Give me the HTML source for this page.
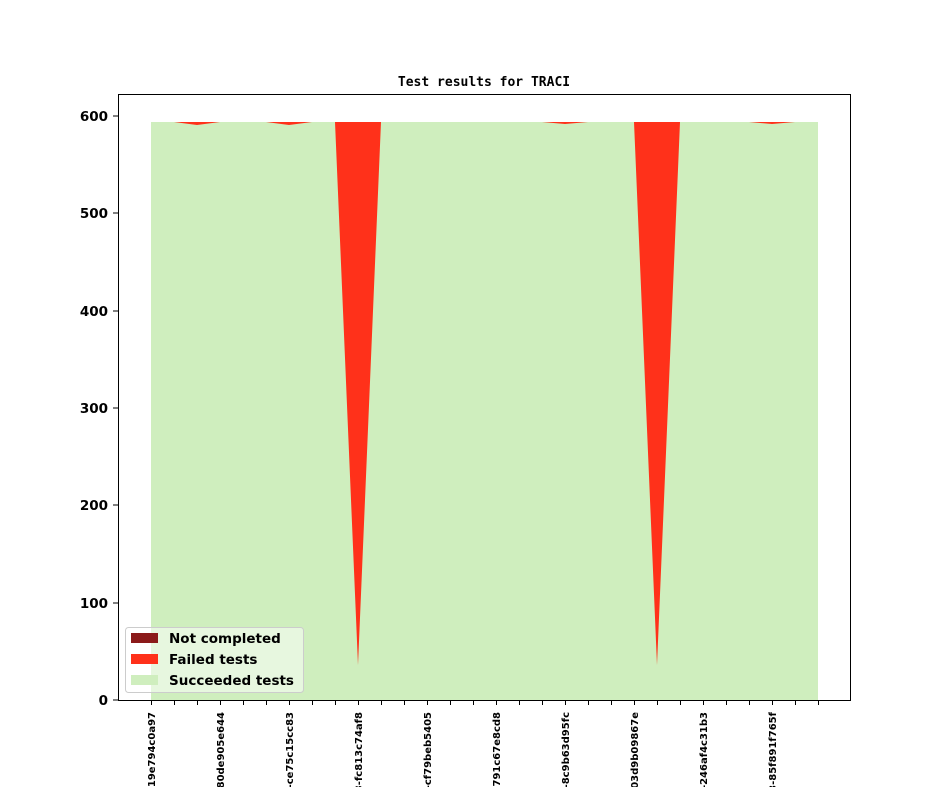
<!DOCTYPE html>
<html><head><style>body{margin:0;background:#fff;overflow:hidden}</style></head><body>
<svg width="944" height="787" xmlns="http://www.w3.org/2000/svg" font-family="DejaVu Sans, Liberation Sans, sans-serif">
<rect width="944" height="787" fill="#fff"/>
<text x="484" y="86" text-anchor="middle" font-family="DejaVu Sans Mono, Liberation Mono, monospace" font-weight="bold" font-size="13">Test results for TRACI</text>
<polygon points="151,700 151,122 818,122 818,700" fill="#ff311a"/>
<polygon fill="#cfeebe" points="151,700 151,122 174,122 197,125 220,122 266,122 289,125 312,122 335,122 358,665 381,122 542,122 565,124 588,122 611,122 634,122 657,665 680,122 749,122 772,124 795,122 818,122 818,700"/>
<rect x="118.5" y="94.5" width="732" height="606" fill="none" stroke="#000" stroke-width="1"/>
<g font-weight="bold" font-size="13.5" text-anchor="end">
<text x="108" y="705">0</text><text x="108" y="608">100</text><text x="108" y="510">200</text><text x="108" y="413">300</text><text x="108" y="316">400</text><text x="108" y="218">500</text><text x="108" y="121">600</text>
</g>
<g stroke="#000"><line x1="113" x2="118" y1="700" y2="700"/><line x1="113" x2="118" y1="603" y2="603"/><line x1="113" x2="118" y1="505" y2="505"/><line x1="113" x2="118" y1="408" y2="408"/><line x1="113" x2="118" y1="311" y2="311"/><line x1="113" x2="118" y1="213" y2="213"/><line x1="113" x2="118" y1="116" y2="116"/></g>
<g font-weight="bold" font-size="10" text-anchor="end">
<text transform="translate(155,712) rotate(-90)">a1b2-19e794c0a97</text>
<text transform="translate(224,712) rotate(-90)">a1b2-80de905e644</text>
<text transform="translate(293,712) rotate(-90)">a1b2-ce75c15cc83</text>
<text transform="translate(362,712) rotate(-90)">a1b3-fc813c74af8</text>
<text transform="translate(431,712) rotate(-90)">a1b2-cf79beb5405</text>
<text transform="translate(500,712) rotate(-90)">a1b2-791c67e8cd8</text>
<text transform="translate(569,712) rotate(-90)">a1b2-8c9b63d95fc</text>
<text transform="translate(638,712) rotate(-90)">a1b2-03d9b09867e</text>
<text transform="translate(707,712) rotate(-90)">a1b2-246af4c31b3</text>
<text transform="translate(776,712) rotate(-90)">a1b3-85f891f765f</text>
</g>
<g stroke="#000" stroke-width="1">
<path d="M151.5 700v5M174.5 700v5M197.5 700v5M220.5 700v5M243.5 700v5M266.5 700v5M289.5 700v5M312.5 700v5M335.5 700v5M358.5 700v5M381.5 700v5M404.5 700v5M427.5 700v5M450.5 700v5M473.5 700v5M496.5 700v5M519.5 700v5M542.5 700v5M565.5 700v5M588.5 700v5M611.5 700v5M634.5 700v5M657.5 700v5M680.5 700v5M703.5 700v5M726.5 700v5M749.5 700v5M772.5 700v5M795.5 700v5M818.5 700v5"/>
</g>
<rect x="125.5" y="627.5" width="178" height="65" rx="3" fill="#fff" fill-opacity="0.5" stroke="#ccc"/>
<rect x="131" y="633" width="27" height="10" fill="#8b1a1a"/>
<rect x="131" y="654" width="27" height="10" fill="#ff311a"/>
<rect x="131" y="675" width="27" height="10" fill="#cfeebe"/>
<g font-weight="bold" font-size="13.5">
<text x="169" y="643">Not completed</text>
<text x="169" y="664">Failed tests</text>
<text x="169" y="685">Succeeded tests</text>
</g>
</svg>
</body></html>
